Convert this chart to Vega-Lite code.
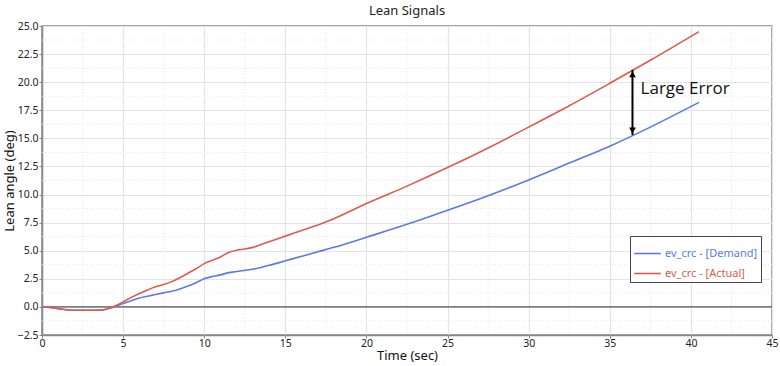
{
  "$schema": "https://vega.github.io/schema/vega-lite/v6.json",
  "autosize": "none",
  "width": 730,
  "height": 309,
  "padding": {"left": 42, "top": 26, "right": 8, "bottom": 31},
  "background": "white",
  "title": {"text": "Lean Signals", "fontSize": 13, "font": "Noto Sans", "fontWeight": "normal", "color": "#222", "offset": 3},
  "config": {
    "view": {"stroke": "#888", "strokeWidth": 1.5},
    "axis": {"labelFont": "Noto Sans", "titleFont": "Noto Sans", "labelFontSize": 10.5, "titleFontSize": 13, "titleFontWeight": "normal", "labelColor": "#222", "titleColor": "#111", "gridColor": "#e3e3e3", "domainColor": "#888", "domainWidth": 1.5, "tickColor": "#888", "tickSize": 3}
  },
  "datasets": {
    "signals": [
      {"t": 0, "v": 0, "s": "ev_crc - [Demand]"},
      {"t": 0.5, "v": -0.05, "s": "ev_crc - [Demand]"},
      {"t": 1, "v": -0.15, "s": "ev_crc - [Demand]"},
      {"t": 1.5, "v": -0.25, "s": "ev_crc - [Demand]"},
      {"t": 2, "v": -0.3, "s": "ev_crc - [Demand]"},
      {"t": 3, "v": -0.3, "s": "ev_crc - [Demand]"},
      {"t": 3.7, "v": -0.28, "s": "ev_crc - [Demand]"},
      {"t": 4.2, "v": -0.1, "s": "ev_crc - [Demand]"},
      {"t": 4.6, "v": 0.1, "s": "ev_crc - [Demand]"},
      {"t": 5, "v": 0.3, "s": "ev_crc - [Demand]"},
      {"t": 5.5, "v": 0.55, "s": "ev_crc - [Demand]"},
      {"t": 6, "v": 0.8, "s": "ev_crc - [Demand]"},
      {"t": 6.5, "v": 0.95, "s": "ev_crc - [Demand]"},
      {"t": 7, "v": 1.1, "s": "ev_crc - [Demand]"},
      {"t": 7.5, "v": 1.25, "s": "ev_crc - [Demand]"},
      {"t": 8, "v": 1.4, "s": "ev_crc - [Demand]"},
      {"t": 8.5, "v": 1.6, "s": "ev_crc - [Demand]"},
      {"t": 9, "v": 1.85, "s": "ev_crc - [Demand]"},
      {"t": 9.5, "v": 2.15, "s": "ev_crc - [Demand]"},
      {"t": 10, "v": 2.5, "s": "ev_crc - [Demand]"},
      {"t": 10.5, "v": 2.7, "s": "ev_crc - [Demand]"},
      {"t": 11, "v": 2.85, "s": "ev_crc - [Demand]"},
      {"t": 11.5, "v": 3.05, "s": "ev_crc - [Demand]"},
      {"t": 12, "v": 3.15, "s": "ev_crc - [Demand]"},
      {"t": 12.5, "v": 3.25, "s": "ev_crc - [Demand]"},
      {"t": 13, "v": 3.35, "s": "ev_crc - [Demand]"},
      {"t": 14, "v": 3.7, "s": "ev_crc - [Demand]"},
      {"t": 15, "v": 4.1, "s": "ev_crc - [Demand]"},
      {"t": 16, "v": 4.5, "s": "ev_crc - [Demand]"},
      {"t": 17, "v": 4.9, "s": "ev_crc - [Demand]"},
      {"t": 18, "v": 5.3, "s": "ev_crc - [Demand]"},
      {"t": 20, "v": 6.2, "s": "ev_crc - [Demand]"},
      {"t": 22.5, "v": 7.35, "s": "ev_crc - [Demand]"},
      {"t": 25, "v": 8.6, "s": "ev_crc - [Demand]"},
      {"t": 27.5, "v": 9.9, "s": "ev_crc - [Demand]"},
      {"t": 30, "v": 11.3, "s": "ev_crc - [Demand]"},
      {"t": 32.5, "v": 12.8, "s": "ev_crc - [Demand]"},
      {"t": 35, "v": 14.3, "s": "ev_crc - [Demand]"},
      {"t": 37.5, "v": 16.0, "s": "ev_crc - [Demand]"},
      {"t": 40.5, "v": 18.2, "s": "ev_crc - [Demand]"},
      {"t": 0, "v": 0, "s": "ev_crc - [Actual]"},
      {"t": 0.5, "v": -0.05, "s": "ev_crc - [Actual]"},
      {"t": 1, "v": -0.15, "s": "ev_crc - [Actual]"},
      {"t": 1.5, "v": -0.25, "s": "ev_crc - [Actual]"},
      {"t": 2, "v": -0.3, "s": "ev_crc - [Actual]"},
      {"t": 3, "v": -0.3, "s": "ev_crc - [Actual]"},
      {"t": 3.7, "v": -0.28, "s": "ev_crc - [Actual]"},
      {"t": 4.2, "v": -0.1, "s": "ev_crc - [Actual]"},
      {"t": 4.6, "v": 0.15, "s": "ev_crc - [Actual]"},
      {"t": 5, "v": 0.45, "s": "ev_crc - [Actual]"},
      {"t": 5.5, "v": 0.85, "s": "ev_crc - [Actual]"},
      {"t": 6, "v": 1.2, "s": "ev_crc - [Actual]"},
      {"t": 6.5, "v": 1.5, "s": "ev_crc - [Actual]"},
      {"t": 7, "v": 1.8, "s": "ev_crc - [Actual]"},
      {"t": 7.5, "v": 2.0, "s": "ev_crc - [Actual]"},
      {"t": 8, "v": 2.25, "s": "ev_crc - [Actual]"},
      {"t": 8.5, "v": 2.6, "s": "ev_crc - [Actual]"},
      {"t": 9, "v": 3.0, "s": "ev_crc - [Actual]"},
      {"t": 9.5, "v": 3.4, "s": "ev_crc - [Actual]"},
      {"t": 10, "v": 3.85, "s": "ev_crc - [Actual]"},
      {"t": 10.5, "v": 4.15, "s": "ev_crc - [Actual]"},
      {"t": 11, "v": 4.45, "s": "ev_crc - [Actual]"},
      {"t": 11.5, "v": 4.85, "s": "ev_crc - [Actual]"},
      {"t": 12, "v": 5.05, "s": "ev_crc - [Actual]"},
      {"t": 12.5, "v": 5.15, "s": "ev_crc - [Actual]"},
      {"t": 13, "v": 5.3, "s": "ev_crc - [Actual]"},
      {"t": 13.5, "v": 5.55, "s": "ev_crc - [Actual]"},
      {"t": 14, "v": 5.8, "s": "ev_crc - [Actual]"},
      {"t": 15, "v": 6.3, "s": "ev_crc - [Actual]"},
      {"t": 16, "v": 6.8, "s": "ev_crc - [Actual]"},
      {"t": 17, "v": 7.3, "s": "ev_crc - [Actual]"},
      {"t": 18, "v": 7.85, "s": "ev_crc - [Actual]"},
      {"t": 20, "v": 9.2, "s": "ev_crc - [Actual]"},
      {"t": 22.5, "v": 10.75, "s": "ev_crc - [Actual]"},
      {"t": 25, "v": 12.4, "s": "ev_crc - [Actual]"},
      {"t": 27.5, "v": 14.15, "s": "ev_crc - [Actual]"},
      {"t": 30, "v": 16.0, "s": "ev_crc - [Actual]"},
      {"t": 32.5, "v": 17.9, "s": "ev_crc - [Actual]"},
      {"t": 35, "v": 19.9, "s": "ev_crc - [Actual]"},
      {"t": 37.5, "v": 21.95, "s": "ev_crc - [Actual]"},
      {"t": 40.5, "v": 24.5, "s": "ev_crc - [Actual]"}
    ],
    "minorX": [{"g": 2.5}, {"g": 7.5}, {"g": 12.5}, {"g": 17.5}, {"g": 22.5}, {"g": 27.5}, {"g": 32.5}, {"g": 37.5}, {"g": 42.5}],
    "minorY": [{"g": -1.25}, {"g": 1.25}, {"g": 3.75}, {"g": 6.25}, {"g": 8.75}, {"g": 11.25}, {"g": 13.75}, {"g": 16.25}, {"g": 18.75}, {"g": 21.25}, {"g": 23.75}],
    "arrow": [{"t": 36.4, "lo": 15.3, "hi": 21.1}],
    "heads": [{"t": 36.4, "v": 15.7, "dir": "down"}, {"t": 36.4, "v": 20.7, "dir": "up"}],
    "note": [{"t": 36.9, "v": 19.4, "label": "Large Error"}]
  },
  "layer": [
    {
      "data": {"name": "minorX"},
      "mark": {"type": "rule", "color": "#e6e6e6", "strokeDash": [1, 2], "strokeWidth": 1},
      "encoding": {"x": {"field": "g", "type": "quantitative", "title": "Time (sec)", "scale": {"domain": [0, 45], "nice": false},
          "axis": {"values": [0, 5, 10, 15, 20, 25, 30, 35, 40, 45], "tickCount": 30, "format": "d", "titlePadding": 1, "labelPadding": 0, "gridWidth": 1.2, "labelOverlap": false, "labelFlush": false}}}
    },
    {
      "data": {"name": "minorY"},
      "mark": {"type": "rule", "color": "#e6e6e6", "strokeDash": [1, 2], "strokeWidth": 1},
      "encoding": {"y": {"field": "g", "type": "quantitative", "title": "Lean angle (deg)", "scale": {"domain": [-2.5, 25], "nice": false},
          "axis": {"values": [-2.5, 0, 2.5, 5, 7.5, 10, 12.5, 15, 17.5, 20, 22.5, 25], "tickCount": 30, "format": ".1f", "titlePadding": 1, "labelPadding": 1, "gridWidth": 1.2, "labelOverlap": false, "labelFlush": false}}}
    },
    {
      "data": {"values": [{"z": 0}]},
      "mark": {"type": "rule", "color": "#555", "strokeWidth": 1.2},
      "encoding": {"y": {"field": "z", "type": "quantitative"}}
    },
    {
      "data": {"name": "signals"},
      "mark": {"type": "line", "strokeWidth": 1.6, "interpolate": "monotone"},
      "encoding": {
        "x": {"field": "t", "type": "quantitative"},
        "y": {"field": "v", "type": "quantitative"},
        "color": {"field": "s", "type": "nominal", "title": null,
          "scale": {"domain": ["ev_crc - [Demand]", "ev_crc - [Actual]"], "range": ["#5b7be0", "#df5a4c"]},
          "legend": {"orient": "none", "legendX": 588, "legendY": 210, "symbolType": "stroke", "symbolSize": 700, "symbolStrokeWidth": 1.6,
            "labelFont": "Noto Sans", "labelFontSize": 11, "strokeColor": "#444", "fillColor": "white", "padding": 3, "rowPadding": 0, "labelOffset": 3,
            "encode": {"labels": {"update": {"fill": {"signal": "datum.label === 'ev_crc - [Demand]' ? '#5b7be0' : '#df5a4c'"}}}}}}
      }
    },
    {
      "data": {"name": "arrow"},
      "mark": {"type": "rule", "color": "black", "strokeWidth": 2},
      "encoding": {"x": {"field": "t", "type": "quantitative"}, "y": {"field": "lo", "type": "quantitative"}, "y2": {"field": "hi"}}
    },
    {
      "data": {"name": "heads"},
      "mark": {"type": "point", "filled": true, "color": "black", "size": 45, "opacity": 1},
      "encoding": {"x": {"field": "t", "type": "quantitative"}, "y": {"field": "v", "type": "quantitative"},
        "shape": {"field": "dir", "type": "nominal", "scale": {"domain": ["up", "down"], "range": ["triangle-up", "triangle-down"]}, "legend": null}}
    },
    {
      "data": {"name": "note"},
      "mark": {"type": "text", "align": "left", "baseline": "middle", "font": "Open Sans", "fontSize": 17, "color": "#111"},
      "encoding": {"x": {"field": "t", "type": "quantitative"}, "y": {"field": "v", "type": "quantitative"}, "text": {"field": "label"}}
    }
  ]
}
